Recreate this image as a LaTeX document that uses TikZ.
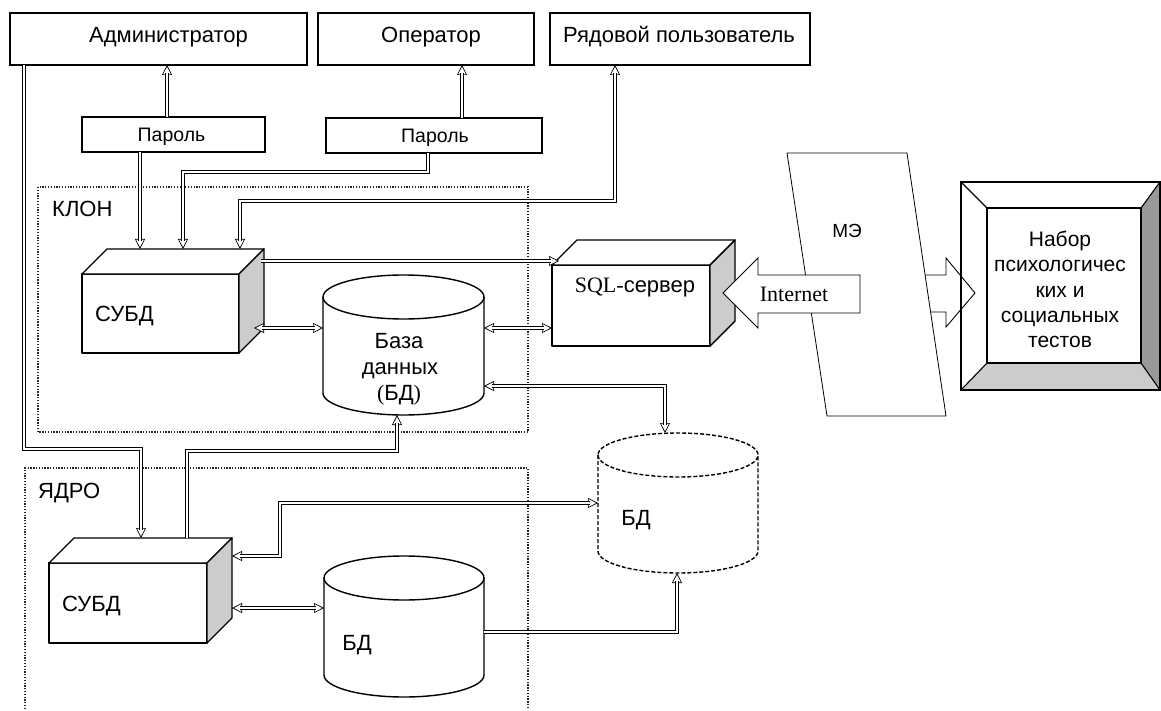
\documentclass[tikz,border=0pt]{standalone}
\usepackage{fontspec}
\setmainfont{Liberation Sans}
\newfontfamily\tnr{Liberation Serif}
\usetikzlibrary{arrows.meta,calc}
\newcommand\cubeat[1]{%
  \draw[cubeln,fill=white] (#1.south west) rectangle ($(#1.north east)+(-25,25)$);
  \draw[cubeln,fill=white] ($(#1.north west)+(0,25)$) -- ($(#1.north west)+(25,0)$) -- (#1.north east) -- ($(#1.north east)+(-25,25)$) -- cycle;
  \draw[cubeln,fill=gray!40] ($(#1.north east)+(-25,25)$) -- (#1.north east) -- ($(#1.south east)+(0,-25)$) -- ($(#1.south east)+(-25,0)$) -- cycle;
}
% opts, xl, xr, ytop, ybot, rx, ry
\newcommand\cylat[7]{%
  \draw[#1,fill=white] (#2,#4) -- (#2,#5) arc[start angle=180,end angle=360,x radius=#6pt,y radius=#7pt]
     -- (#3,#4) arc[start angle=0,end angle=180,x radius=#6pt,y radius=#7pt] -- cycle;
  \draw[#1] (#2,#4) arc[start angle=180,end angle=360,x radius=#6pt,y radius=#7pt];
}
% double-line connector: #1 tips, #2 shortening style, #3 path
\newcommand\cn[3]{%
  \draw[tipln,#1] #3;
  \draw[shaftout,#2] #3;
  \draw[shaftin,#2] #3;
}
\begin{document}
\begin{tikzpicture}[x=1pt,y=-1pt,
  box/.style={draw, line width=1.1pt, inner sep=0pt, outer sep=0pt},
  bound/.style={inner sep=0pt, outer sep=0pt},
  lbl/.style={inner sep=0pt, font=\fontsize{22}{26}\selectfont, anchor=base},
  tipln/.style={draw=black, line width=0.7pt},
  shaftout/.style={draw=black, line width=3.6pt, line join=miter},
  shaftin/.style={draw=white, line width=1.7pt, line join=miter},
  sE/.style={shorten >=8pt},
  sB/.style={shorten >=8pt, shorten <=8pt},
  cubeln/.style={line width=1.4pt, line join=round},
  cylln/.style={line width=1.4pt},
  dotbox/.style={line width=1.6pt, dash pattern=on 1.3pt off 1.5pt, draw=black!85},
  >={Triangle[open,length=10pt,width=10pt,fill=white]},
 ]
\useasboundingbox (0,0) rectangle (1161,711);

% dotted regions
\draw[dotbox] (38,187) rectangle (528,432);
\draw[dotbox] (25,709) -- (25,468) -- (528,468) -- (528,709);

% top boxes
\node[box, minimum width=297pt, minimum height=52pt] (admin) at (158.5,39) {};
\node[box, minimum width=216pt, minimum height=52pt] (oper) at (426,39) {};
\node[box, minimum width=260pt, minimum height=52pt] (ryad) at (680,39) {};
\node[box, minimum width=183pt, minimum height=35pt] (par1) at (173.5,134.5) {};
\node[box, minimum width=216pt, minimum height=35pt] (par2) at (434,135.5) {};
\node[lbl] (adminT) at (168.5,43) {Администратор};
\node[lbl] (operT) at (431,43) {Оператор};
\node[lbl] (ryadT) at (679,43) {Рядовой пользователь};
\node[lbl, font=\fontsize{19.5}{22}\selectfont] (par1T) at (171.5,142) {Пароль};
\node[lbl, font=\fontsize{19.5}{22}\selectfont] (par2T) at (435,143) {Пароль};
\node[lbl, anchor=base west] (klon) at (52,217) {КЛОН};
\node[lbl, anchor=base west] (yadro) at (38,498) {ЯДРО};

% cubes
\node[bound, minimum width=182pt, minimum height=104pt] (subd1) at (173,301) {};
\node[bound, minimum width=183pt, minimum height=105pt] (subd2) at (140.5,590.5) {};
\node[bound, minimum width=183pt, minimum height=106pt] (sql) at (643.5,293) {};
\cubeat{subd1}
\cubeat{subd2}
\cubeat{sql}
\node[lbl, anchor=base west] (subd1T) at (95,321) {СУБД};
\node[lbl, anchor=base west] (subd2T) at (62,611) {СУБД};
\node[lbl] (sqlT) at (635,292) {{\tnr SQL-}сервер};

% cylinders
\node[bound, minimum width=161pt, minimum height=140pt] (bd1) at (403.5,345) {};
\node[bound, minimum width=160pt, minimum height=141pt] (bd2) at (404,626.5) {};
\node[bound, minimum width=160pt, minimum height=140pt] (bd3) at (678,503) {};
\cylat{cylln}{323}{484}{297}{393}{80.5}{22}
\cylat{cylln}{324}{484}{578}{675}{80}{22}
\cylat{cylln,dashed,dash pattern=on 4pt off 2pt}{598}{758}{455}{551}{80}{22}
\node[lbl] (bd1a) at (399,348) {База};
\node[lbl] (bd1b) at (400,374) {данных};
\node[lbl] (bd1c) at (399,400) {{\tnr(}БД{\tnr)}};
\node[lbl] (bd2T) at (357,650) {БД};
\node[lbl] (bd3T) at (636,525) {БД};

% connectors
\cn{->}{sE}{(167,0 |- par1.north) -- (167,0 |- admin.south)}
\cn{->}{sE}{(462,0 |- par2.north) -- (462,0 |- oper.south)}
\cn{->}{sE}{(140,0 |- par1.south) -- (140,0 |- subd1.north)}
\cn{->}{sE}{(428,0 |- par2.south) -- (428,172) -- (183,172) -- (183,0 |- subd1.north)}
\cn{<->}{sB}{(240,0 |- subd1.north) -- (240,201) -- (615,201) -- (615,0 |- ryad.south)}
\cn{->}{sE}{($(subd1.east |- 0,261)+(-3,0)$) -- ($(sql.west |- 0,261)+(7,0)$)}
\cn{<->}{sB}{($(subd1.east |- 0,328)+(-10,0)$) -- (bd1.west |- 0,328)}
\cn{<->}{sB}{(bd1.east |- 0,328) -- (sql.west |- 0,328)}
\cn{<->}{sB}{(bd1.east |- 0,386) -- (665,386) -- (665,0 |- bd3.north)}
\cn{->}{sE}{(187,0 |- subd2.north) -- (187,451) -- (397,451) -- (397,0 |- bd1.south)}
\cn{->}{sE}{(24,0 |- admin.south) -- (24,449) -- (141,449) -- (141,0 |- subd2.north)}
\cn{<->}{sB}{(subd2.east |- 0,556) -- (280,556) -- (280,503) -- (bd3.west |- 0,503)}
\cn{<->}{sB}{(subd2.east |- 0,608) -- (bd2.west |- 0,608)}
\cn{->}{sE}{(bd2.east |- 0,632) -- (677,632) -- (677,0 |- bd3.south)}

% big arrow to tests
\draw[line width=0.9pt, fill=white, line join=miter] (915,275) -- (946,275) -- (946,258) -- (975,293) -- (946,327) -- (946,312) -- (915,312);
% firewall
\draw[line width=0.8pt, fill=white] (787,153) -- (907,153) -- (946,416) -- (827,416) -- cycle;
\node[lbl, font=\fontsize{19}{22}\selectfont] (me) at (847,238) {МЭ};
% internet arrow
\draw[line width=0.9pt, fill=white, line join=miter] (860,275) -- (758,275) -- (758,258) -- (723,293) -- (758,328) -- (758,313) -- (860,313) -- cycle;
\node[lbl, font=\tnr\fontsize{22}{26}\selectfont] (inet) at (794,301) {Internet};

% framed box of tests
\fill[gray!40] (961,390) -- (987,363) -- (1141,363) -- (1160,390) -- cycle;
\fill[gray!80] (1141,208) -- (1160,182) -- (1160,390) -- (1141,363) -- cycle;
\draw[line width=1.1pt] (961,182) rectangle (1160,390);
\node[box, minimum width=154pt, minimum height=155pt] (tests) at (1064,285.5) {};
\draw[line width=1.1pt] (961,182) -- (tests.north west) (1160,182) -- (tests.north east)
  (961,390) -- (tests.south west) (1160,390) -- (tests.south east);
\node[lbl, font=\fontsize{21}{25}\selectfont] (t1) at (1060,247) {Набор};
\node[lbl, font=\fontsize{21}{25}\selectfont] (t2) at (1060,272) {психологичес};
\node[lbl, font=\fontsize{21}{25}\selectfont] (t3) at (1060,297) {ких и};
\node[lbl, font=\fontsize{21}{25}\selectfont] (t4) at (1060,322) {социальных};
\node[lbl, font=\fontsize{21}{25}\selectfont] (t5) at (1060,347) {тестов};
\end{tikzpicture}
\end{document}
